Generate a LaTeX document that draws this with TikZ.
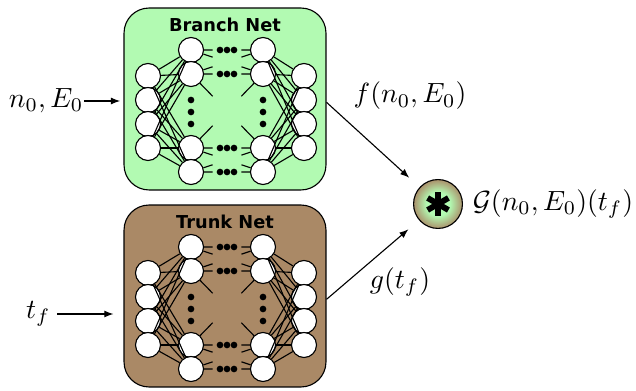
\documentclass[tikz,border=0pt]{standalone}
\usepackage{fontspec}
\newfontfamily\netfont{DejaVu Sans}
\usetikzlibrary{positioning, calc, arrows.meta}
\definecolor{branchgreen}{RGB}{178,250,178}
\definecolor{trunkbrown}{RGB}{170,137,102}
\pgfdeclareradialshading{mixshade}{\pgfpoint{0bp}{0bp}}{color(0bp)=(branchgreen); color(12bp)=(branchgreen); color(26bp)=(trunkbrown); color(50bp)=(trunkbrown)}
\begin{document}
\begin{tikzpicture}[x=0.36pt, y=-0.36pt, >={Latex[length=3.3pt, width=2.5pt]},
    neuron/.style={circle, draw, fill=white, minimum size=9pt, inner sep=0pt},
    netbox/.style={draw, rounded corners=9pt, minimum width=72.7pt, minimum height=65.5pt, inner sep=0pt},
    nettitle/.style={font=\netfont\bfseries\fontsize{6.4}{7.5}\selectfont}]
  \useasboundingbox (0,0) rectangle (636,391);
  % the two sub-networks, same layout, shifted down
  \foreach \net/\col/\name/\dy in {branch/branchgreen/Branch Net/0, trunk/trunkbrown/Trunk Net/197} {
      \node[netbox, fill=\col] (\net) at (225,99+\dy) {};
      \node[nettitle] (\net-title) at (225,25+\dy) {\name};
      \foreach \i/\y in {1/76, 2/100, 3/124, 4/148} {
          \node[neuron] (\net-in\i) at (148,\y+\dy) {};
          \node[neuron] (\net-out\i) at (304,\y+\dy) {};
        }
      \foreach \i/\y in {1/50, 2/74, 3/148, 4/172} {
          \node[neuron] (\net-a\i) at (191,\y+\dy) {};
          \node[neuron] (\net-b\i) at (263,\y+\dy) {};
        }
      \foreach \i in {1,...,4}
        \foreach \j in {1,...,4} {
            \draw (\net-in\i) -- (\net-a\j);
            \draw (\net-b\i) -- (\net-out\j);
          }
      % short stubs towards the hidden part
      \foreach \i/\j in {1/1, 1/2, 2/1, 2/2, 2/3, 3/2, 3/3, 3/4, 4/3, 4/4} {
          \draw (\net-a\i) -- ($(\net-a\i)!0.3!(\net-b\j)$);
          \draw (\net-b\j) -- ($(\net-b\j)!0.3!(\net-a\i)$);
        }
      \foreach \y in {50, 74, 148, 172}
        \foreach \x in {220, 227, 234}
          \fill (\x,\y+\dy) circle[radius=1.2pt];
      \foreach \x in {191, 263}
        \foreach \y in {100, 112, 124}
          \fill (\x,\y+\dy) circle[radius=1.2pt];
    }
  \node[circle, draw, minimum size=17.6pt, shading=mixshade] (comb) at (438,204) {};
  \foreach \a in {90, 30, 150}
    \draw[line width=2.1pt] (comb.center) ++(\a:12) -- ++(\a+180:24);
  \node[right=0pt of comb] (G-label) {$\mathcal{G}(n_0,E_0)(t_f)$};
  \draw[->, shorten >=5pt] ([yshift=-1.2pt]branch.east) -- (comb);
  \draw[->, shorten >=5pt] ([yshift=-1.2pt]trunk.east) -- (comb);
  \node (f-label) at (410,96) {$f(n_0,E_0)$};
  \node (g-label) at (400,282) {$g(t_f)$};
  \node[anchor=east, inner sep=0pt] (in-branch) at (84,101) {$n_0,E_0$};
  \draw[->, shorten >=1.2pt] (in-branch) -- (in-branch -| branch.west);
  \node[anchor=east, inner sep=0pt] (in-trunk) at (51,314) {$t_f$};
  \draw[->, shorten <=2.2pt, shorten >=3.6pt] (in-trunk) -- (in-trunk -| trunk.west);
\end{tikzpicture}
\end{document}
